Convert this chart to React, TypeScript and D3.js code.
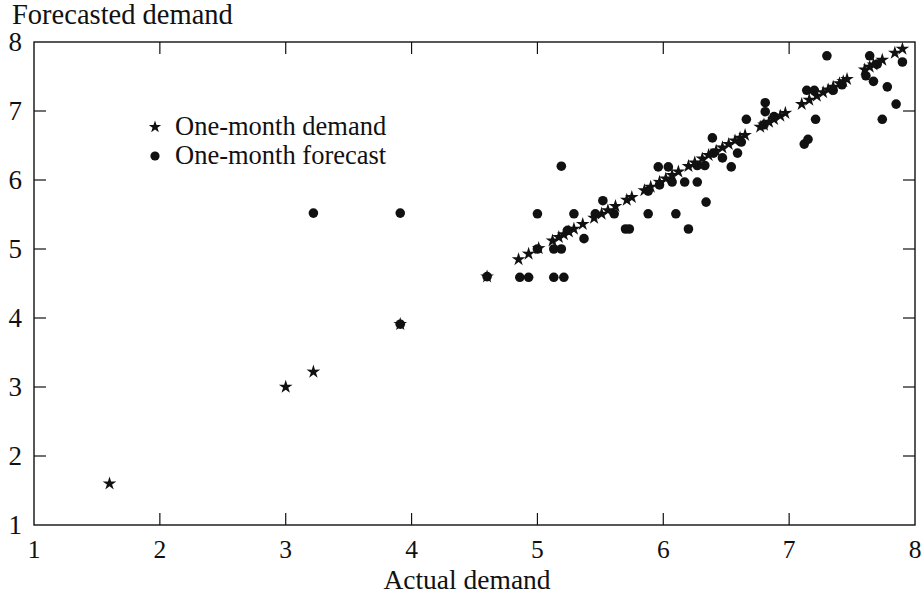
import React from "react";
import * as d3 from "d3";

// Actual demand values (stars lie on the diagonal: demand vs demand)
const demand: number[] = [
  1.6, 3.0, 3.22, 3.91, 4.6, 4.85, 4.93, 5.01, 5.12, 5.17, 5.21, 5.25, 5.29, 5.36,
  5.45, 5.51, 5.56, 5.62, 5.71, 5.75, 5.85, 5.9, 5.97, 6.02, 6.07, 6.12, 6.2,
  6.25, 6.31, 6.36, 6.42, 6.47, 6.52, 6.57, 6.61, 6.65, 6.77, 6.8, 6.84, 6.88,
  6.93, 6.97, 7.1, 7.16, 7.22, 7.27, 7.31, 7.35, 7.4, 7.43, 7.46, 7.6, 7.64,
  7.67, 7.74, 7.84, 7.9,
];

// One-month forecast: actual demand (x) and forecasted demand (y)
const forecastActual: number[] = [
  3.22, 3.91, 3.91, 4.6, 4.86, 4.93, 5.13, 5.21, 5.0, 5.13, 5.19, 5.0, 5.19,
  5.24, 5.29, 5.37, 5.46, 5.52, 5.61, 5.7, 5.73, 5.88, 5.88, 5.96, 5.97, 6.04,
  6.07, 6.1, 6.17, 6.2, 6.27, 6.27, 6.33, 6.34, 6.4, 6.39, 6.47, 6.54, 6.59,
  6.62, 6.66, 6.81, 6.81, 6.8, 6.88, 7.12, 7.15, 7.14, 7.2, 7.21, 7.3, 7.35,
  7.42, 7.61, 7.64, 7.67, 7.74, 7.78, 7.85, 7.9, 7.7,
];
const forecastValue: number[] = [
  5.52, 5.52, 3.91, 4.6, 4.59, 4.59, 4.59, 4.59, 5.0, 5.0, 5.0, 5.51, 6.2,
  5.27, 5.51, 5.15, 5.51, 5.7, 5.51, 5.29, 5.29, 5.51, 5.84, 6.19, 5.93, 6.19,
  5.97, 5.51, 5.97, 5.29, 5.97, 6.21, 6.21, 5.68, 6.39, 6.61, 6.32, 6.19, 6.39,
  6.55, 6.88, 7.12, 6.99, 6.8, 6.92, 6.52, 6.59, 7.3, 7.3, 6.88, 7.8, 7.3,
  7.38, 7.51, 7.8, 7.43, 6.88, 7.35, 7.1, 7.71, 7.68,
];

const xTicks: number[] = [1, 2, 3, 4, 5, 6, 7, 8];
const yTicks: number[] = [1, 2, 3, 4, 5, 6, 7, 8];

const W = 922;
const H = 595;
const L = 34, R = 915, T = 42, B = 525;

function starPath(cx: number, cy: number, ro: number, ri: number): string {
  const pts: [number, number][] = [];
  for (let i = 0; i < 10; i++) {
    const a = -Math.PI / 2 + (i * Math.PI) / 5;
    const r = i % 2 === 0 ? ro : ri;
    pts.push([cx + r * Math.cos(a), cy + r * Math.sin(a)]);
  }
  return d3.line()(pts) + "Z";
}

export default function App() {
  const x = d3.scaleLinear().domain([1, 8]).range([L, R]);
  const y = d3.scaleLinear().domain([1, 8]).range([B, T]);
  const font = "'Liberation Serif', 'Times New Roman', serif";
  const tick = 12;
  const ink = "#111";

  return (
    <svg
      width={W}
      height={H}
      style={{ position: "absolute", left: 0, top: 0, background: "#fff" }}
      fontFamily={font}
    >
      <rect x={0} y={0} width={W} height={H} fill="#fff" />
      {/* frame */}
      <rect x={L} y={T} width={R - L} height={B - T} fill="none" stroke={ink} strokeWidth={1.4} />
      {/* ticks */}
      {xTicks.slice(1, -1).map((t) => (
        <g key={"xt" + t}>
          <line x1={x(t)} x2={x(t)} y1={B} y2={B - tick} stroke={ink} strokeWidth={1.2} />
          <line x1={x(t)} x2={x(t)} y1={T} y2={T + tick} stroke={ink} strokeWidth={1.2} />
        </g>
      ))}
      {yTicks.slice(1, -1).map((t) => (
        <g key={"yt" + t}>
          <line x1={L} x2={L + tick} y1={y(t)} y2={y(t)} stroke={ink} strokeWidth={1.2} />
          <line x1={R} x2={R - tick} y1={y(t)} y2={y(t)} stroke={ink} strokeWidth={1.2} />
        </g>
      ))}
      {/* tick labels */}
      {xTicks.map((t) => (
        <text key={"xl" + t} x={x(t)} y={B + 33} textAnchor="middle" fontSize={25.5} fill={ink}>
          {t}
        </text>
      ))}
      {yTicks.map((t) => (
        <text key={"yl" + t} x={22} y={y(t) + 9} textAnchor="end" fontSize={27} fill={ink}>
          {t}
        </text>
      ))}
      {/* axis titles */}
      <text x={12} y={24} fontSize={28.5} fill={ink}>
        Forecasted demand
      </text>
      <text x={467} y={589} textAnchor="middle" fontSize={27.5} fill={ink}>
        Actual demand
      </text>
      {/* legend */}
      <path d={starPath(155, 127, 6.5, 2.6)} fill={ink} />
      <text x={175} y={135} fontSize={26.5} fill={ink}>
        One-month demand
      </text>
      <circle cx={155} cy={156} r={4.6} fill={ink} />
      <text x={175} y={164} fontSize={26.5} fill={ink}>
        One-month forecast
      </text>
      {/* forecast dots */}
      {forecastActual.map((a, i) => (
        <circle key={"f" + i} cx={x(a)} cy={y(forecastValue[i])} r={4.8} fill={ink} />
      ))}
      {/* demand stars */}
      {demand.map((d, i) => (
        <path key={"s" + i} d={starPath(x(d), y(d), 7.2, 2.7)} fill={ink} />
      ))}
    </svg>
  );
}
